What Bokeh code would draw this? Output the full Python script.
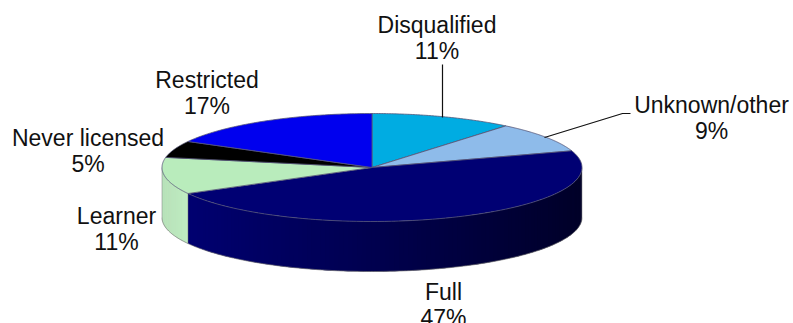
import numpy as np
from bokeh.embed import file_html
from bokeh.models import ColumnDataSource, Range1d
from bokeh.plotting import figure
from bokeh.resources import INLINE
from bokeh.core.properties import value

categories = ["Disqualified", "Unknown/other", "Full", "Learner", "Never licensed", "Restricted"]
shares = [11, 9, 47, 11, 5, 17]
top_colors = ["#00ace2", "#8ebbea", "#000073", "#b9ecbc", "#000000", "#0000ee"]

CX, CY, RX, RY, DEPTH = 371.5, 167.0, 210.0, 54.0, 50.0
FONT = value("Liberation Sans")
SIZE = "23px"
INK = "#111111"

# Label anchors: centre x and vertical middle of the name line;
# the percentage sits one line below.
LABEL_X = [436.5, 711, 443, 116, 87.5, 206.5]
LABEL_Y = [24, 104, 291, 215, 137, 79]
LINE_STEP = 26

p = figure(width=793, height=323, output_backend="svg", toolbar_location=None,
           x_range=Range1d(0, 793), y_range=Range1d(323, 0), min_border=0,
           outline_line_color=None, background_fill_color="white")
p.axis.visible = False
p.grid.visible = False


def rim(angle):
    """Point on the top ellipse, angle in radians clockwise from twelve o'clock."""
    return CX + RX * np.sin(angle), CY - RY * np.cos(angle)


fractions = np.cumsum([0] + shares) / sum(shares)
angles = fractions * 2 * np.pi


def blend(a, b, t):
    return "#%02x%02x%02x" % tuple(int(round(x + (y - x) * t)) for x, y in zip(a, b))


# Outer wall of the disc: overlapping strips painted left to right so no seams show.
def wall(start, end, left_rgb, right_rgb):
    lo, hi = max(start, np.pi / 2), min(end, 3 * np.pi / 2)
    edges = np.linspace(hi, lo, 120)
    xa, xb = rim(hi)[0], rim(lo)[0]
    for k in range(len(edges) - 1):
        seg = edges[k:k + 3]
        x, y = rim(seg)
        t = (x[0] - xa) / (xb - xa)
        p.patch(np.r_[x, x[::-1]], np.r_[y, (y + DEPTH)[::-1]],
                fill_color=blend(left_rgb, right_rgb, t), line_color=None)


wall(angles[2], angles[3], (0, 0, 112), (0, 0, 40))
wall(angles[3], angles[4], (176, 222, 178), (190, 236, 192))

# Silhouette and the edges between wall sections.
t = np.linspace(np.pi / 2, 3 * np.pi / 2, 200)
ox, oy = rim(t)
p.line(ox, oy + DEPTH, line_color="#777777", line_width=1, line_alpha=0.7)
for a in (np.pi / 2, angles[3], 3 * np.pi / 2):
    x0, y0 = rim(a)
    p.line([x0, x0], [y0, y0 + DEPTH], line_color="#777777", line_width=0.8, line_alpha=0.6)

# Top face, one wedge per category.
for i, color in enumerate(top_colors):
    t = np.linspace(angles[i], angles[i + 1], 90)
    x, y = rim(t)
    p.patch(np.r_[CX, x], np.r_[CY, y], fill_color=color,
            line_color="#555577", line_width=0.8)

# Leader lines.
p.line([442, 442], [64, 117], line_color="#111111", line_width=1.2)
p.line([544, 622, 630], [137, 113, 113], line_color="#111111", line_width=1.2)

names = ColumnDataSource(dict(x=LABEL_X, y=LABEL_Y, label=categories))
pcts = ColumnDataSource(dict(x=LABEL_X, y=[v + LINE_STEP for v in LABEL_Y],
                             label=["%d%%" % s for s in shares]))
for src in (names, pcts):
    p.text("x", "y", text="label", source=src, text_font=FONT, text_font_size=SIZE,
           text_color=INK, text_align="center", text_baseline="middle")

open("out.html", "w").write(file_html(p, INLINE))
